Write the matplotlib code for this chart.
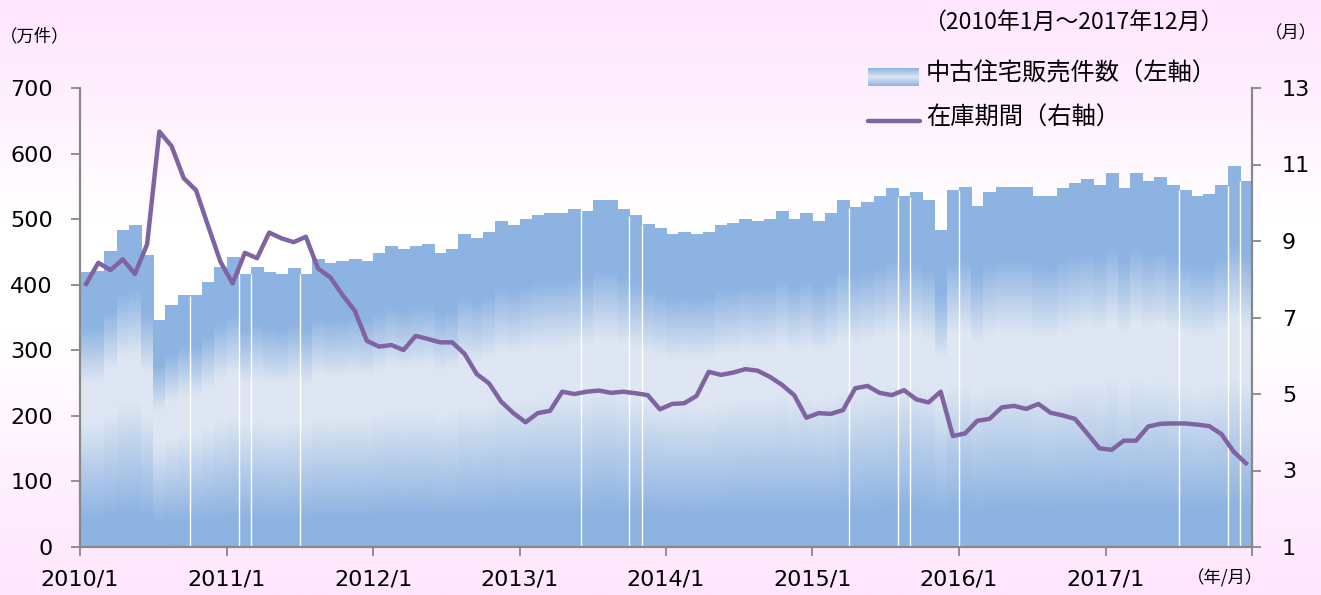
import numpy as np
import matplotlib.pyplot as plt
from matplotlib.colors import LinearSegmentedColormap
from matplotlib.lines import Line2D

# 中古住宅販売件数（万件）, 2010/1 - 2017/12
sales = [419, 420, 450, 482, 490, 445, 345, 369, 384, 383, 403, 427,
         442, 416, 427, 418, 415, 424, 416, 439, 433, 435, 439, 436,
         448, 459, 453, 459, 461, 447, 454, 477, 471, 479, 497, 490,
         499, 506, 508, 509, 515, 512, 528, 528, 515, 505, 492, 486,
         477, 479, 476, 479, 491, 494, 499, 497, 500, 512, 500, 509,
         497, 509, 528, 517, 526, 535, 546, 534, 540, 529, 483, 544,
         549, 520, 540, 549, 548, 549, 534, 535, 547, 554, 561, 552,
         570, 547, 570, 557, 563, 552, 544, 535, 538, 551, 580, 558]

# 在庫期間（月）
months = [7.88, 8.43, 8.24, 8.52, 8.14, 8.92, 11.86, 11.48, 10.64, 10.33, 9.39, 8.46,
          7.89, 8.69, 8.55, 9.22, 9.07, 8.97, 9.11, 8.28, 8.05, 7.59, 7.18, 6.39,
          6.24, 6.28, 6.15, 6.52, 6.44, 6.35, 6.35, 6.05, 5.52, 5.28, 4.80, 4.50,
          4.26, 4.50, 4.56, 5.06, 5.00, 5.06, 5.09, 5.03, 5.06, 5.02, 4.97, 4.60,
          4.74, 4.76, 4.95, 5.58, 5.50, 5.56, 5.65, 5.61, 5.45, 5.24, 4.97, 4.38,
          4.50, 4.48, 4.58, 5.15, 5.21, 5.03, 4.97, 5.10, 4.86, 4.78, 5.06, 3.90,
          3.97, 4.30, 4.35, 4.65, 4.69, 4.61, 4.74, 4.51, 4.44, 4.35, 3.97, 3.58,
          3.54, 3.78, 3.78, 4.15, 4.22, 4.23, 4.23, 4.20, 4.16, 3.95, 3.49, 3.19]

year_labels = ['2010/1', '2011/1', '2012/1', '2013/1', '2014/1',
               '2015/1', '2016/1', '2017/1', '']

# thin white seams visible between some bars in the original
seams = [9, 13, 14, 18, 41, 45, 46, 63, 67, 68, 72, 90, 94, 95]

JP = ['Noto Sans CJK JP', 'DejaVu Sans']
DARK = (141/255, 179/255, 226/255)
LIGHT = (221/255, 230/255, 242/255)
MID = tuple((a + b) / 2 for a, b in zip(DARK, LIGHT))
PINK = (1.0, 229/255, 254/255)
GRAY = '#888888'
PURPLE = '#8064A2'

bar_cmap = LinearSegmentedColormap.from_list(
    'bar', [(0, DARK), (0.1, DARK), (0.28, MID), (0.45, LIGHT), (0.6, LIGHT),
            (0.8, DARK), (1, DARK)])
bg_cmap = LinearSegmentedColormap.from_list(
    'bg', [(0, PINK), (0.38, 'white'), (0.56, 'white'), (1, PINK)])

fig = plt.figure(figsize=(13.21, 5.95), dpi=100)

# background
bg = fig.add_axes([0, 0, 1, 1], zorder=-10)
bg.imshow(np.linspace(0, 1, 256).reshape(-1, 1), cmap=bg_cmap, aspect='auto',
          extent=[0, 1, 0, 1], origin='upper')
bg.axis('off')

ax = fig.add_axes([80/1321, 1 - 547/595, (1252-80)/1321, (547-88)/595])
ax.set_facecolor('none')
grad = np.linspace(0, 1, 256).reshape(-1, 1)

x = np.arange(len(sales))
bars = ax.bar(x, sales, width=1.0, align='edge', color='none', edgecolor='none')
for b in bars:
    ax.imshow(grad, cmap=bar_cmap, origin='lower', aspect='auto', zorder=1,
              extent=[b.get_x(), b.get_x() + b.get_width(), 0, b.get_height()])
for s in seams:
    ax.vlines(s, 0, min(sales[s - 1], sales[s]), color='white', lw=1.0, zorder=2)

ax.set_xlim(0, 96)
ax.set_ylim(0, 700)
ax.set_yticks(range(0, 701, 100))
ax.set_xticks(range(0, 97, 12))
ax.set_xticklabels(year_labels)

ax2 = ax.twinx()
ax2.plot(x + 0.5, months, color=PURPLE, lw=3.2, solid_joinstyle='round', zorder=5)
ax2.set_ylim(1, 13)
ax2.set_yticks(range(1, 14, 2))

for a in (ax, ax2):
    for s in a.spines.values():
        s.set_color(GRAY)
        s.set_linewidth(1.6)
    a.spines['top'].set_visible(False)
ax.spines['right'].set_visible(False)
ax2.spines['left'].set_visible(False)
ax2.spines['bottom'].set_visible(False)

ax.tick_params(axis='y', direction='out', length=6.5, width=1.3, color=GRAY,
               labelsize=16, pad=13)
ax.tick_params(axis='x', direction='out', length=6.5, width=1.3, color=GRAY,
               labelsize=16, pad=10)
ax2.tick_params(axis='y', direction='out', length=6.5, width=1.3, color=GRAY,
                labelsize=16, pad=15)

# annotations
fig.text(35/1321, 1 - 36/595, '（万件）', fontsize=12.5, family=JP, ha='center', va='center')
fig.text(1291/1321, 1 - 33/595, '（月）', fontsize=12.5, family=JP, ha='center', va='center')
fig.text(1225/1321, 1 - 578/595, '（年/月）', fontsize=12.5, family=JP, ha='center', va='center')
fig.text(1073/1321, 1 - 22/595, '（2010年1月～2017年12月）', fontsize=16.5, family=JP,
         ha='center', va='center')

# legend
lax = fig.add_axes([868/1321, 1 - 86/595, 51/1321, 18/595])
lax.imshow(grad, cmap=LinearSegmentedColormap.from_list('lg', [DARK, LIGHT, DARK]),
           aspect='auto', origin='lower')
lax.axis('off')
fig.add_artist(Line2D([868/1321, 920/1321], [1 - 121/595, 1 - 121/595],
                      color=PURPLE, lw=3.2, solid_capstyle='round'))
fig.text(926/1321, 1 - 74/595, '中古住宅販売件数（左軸）', fontsize=17.5, family=JP, va='center')
fig.text(926/1321, 1 - 118/595, '在庫期間（右軸）', fontsize=17.5, family=JP, va='center')

fig.savefig('out.png', dpi=100)
